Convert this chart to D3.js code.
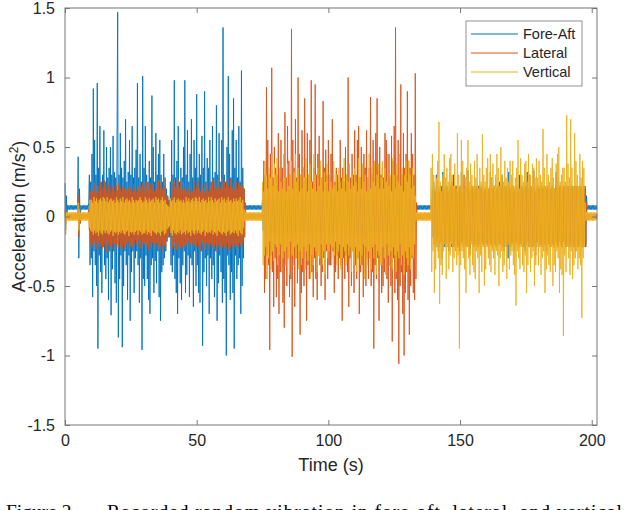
<!DOCTYPE html>
<html>
<head>
<meta charset="utf-8">
<script src="https://cdn.jsdelivr.net/npm/d3@7"></script>
<style>
  body { margin: 0; background: #fff; }
  svg text { font-family: "Liberation Sans", Arial, sans-serif; fill: #262626; }
  .caption { font-family: "Liberation Serif", "Times New Roman", serif; fill: #000; }
</style>
</head>
<body>
<div id="chart"></div>
<script>
/* ===== Data ===== */
// one value every 0.25 s from t = 0 s; each row below covers 10 s
const sampleStep = 0.25;
const seriesNames = ["Fore-Aft", "Lateral", "Vertical"];
const seriesColors = ["#0072BD", "#D95319", "#EDB120"];
const xTicks = [0, 50, 100, 150, 200];
const yTicks = [-1.5, -1, -0.5, 0, 0.5, 1, 1.5];

const foreAft = [
  0.24,-0.10,0.15,0.02,0.08,0.05,0.08,0.05,0.08,0.05,0.08,0.05,0.08,0.05,0.08,0.05,0.08,0.05,0.08,0.05,0.43,-0.30,0.20,-0.05,0.08,0.05,0.08,0.05,0.08,0.05,0.08,0.05,0.08,0.05,0.08,0.05,0.10,0.30,-0.35,0.25,
  -0.30,0.45,-0.58,0.92,-0.25,0.55,-0.35,0.30,-0.50,0.96,-0.95,0.35,-0.28,0.65,-0.40,0.25,-0.55,0.30,-0.22,0.62,-0.35,0.25,-0.45,0.50,-0.30,0.28,-0.60,0.35,-0.25,0.50,-0.71,0.30,-0.38,0.58,-0.25,0.32,-0.48,0.28,-0.62,0.55,
  1.47,-0.87,0.30,-0.45,0.60,-0.28,0.35,-0.94,0.28,-0.50,0.40,-0.25,0.70,-0.35,0.25,-0.60,0.32,-0.28,0.55,-0.75,0.30,-0.40,0.65,-0.25,0.28,-0.55,0.35,-0.30,0.48,-0.25,0.96,-0.35,0.28,-0.62,0.45,-0.30,0.25,-0.96,1.01,-0.45,
  0.35,-0.50,0.65,-0.28,0.30,-0.45,0.25,-0.60,0.40,-0.70,0.28,-0.35,0.87,-0.30,0.50,-0.55,0.25,-0.32,0.60,-0.48,0.30,-0.25,0.45,-0.58,0.55,-0.75,0.30,-0.40,0.25,-0.35,0.45,-0.30,0.28,-0.25,0.20,-0.18,0.15,-0.12,0.12,-0.15,
  0.25,-0.35,0.55,-0.40,0.30,-0.28,0.98,-0.45,0.28,-0.55,0.40,-0.70,0.65,-0.30,0.25,-0.48,0.35,-0.60,0.28,-0.35,0.50,-0.25,0.98,-0.55,0.30,-0.42,0.62,-0.28,0.25,-0.58,0.45,-0.30,0.70,-0.35,0.28,-0.65,0.55,-0.25,0.35,-0.50,
  0.88,-0.35,0.28,-0.55,0.45,-0.62,0.30,-0.25,0.58,-0.93,0.35,-0.40,0.90,-0.30,0.25,-0.50,0.42,-0.28,0.35,-0.70,0.55,-0.30,0.25,-0.45,0.65,-0.35,0.28,-0.58,0.32,-0.25,0.80,-0.75,0.30,-0.48,0.60,-0.28,0.25,-0.40,0.55,-0.62,
  1.36,-0.45,0.30,-0.55,0.25,-1.00,0.50,-0.28,1.01,-0.35,0.45,-0.60,0.28,-0.40,0.62,-0.55,0.85,-0.95,0.35,-0.28,0.55,-0.45,0.28,-0.35,0.65,-0.30,0.25,-0.70,1.05,-0.50,0.35,-0.30,0.20,0.05,0.08,0.05,0.08,0.05,0.08,0.05,
  0.08,0.05,0.08,0.05,0.08,0.05,0.08,0.05,0.08,0.05,0.08,0.05,0.08,0.05,0.08,0.05,0.08,0.05,0.08,0.05,0.12,-0.10,0.14,-0.12,0.10,-0.13,0.12,-0.11,0.15,-0.10,0.12,-0.14,0.10,-0.12,0.13,-0.10,0.12,-0.13,0.11,-0.12,
  0.13,-0.11,0.10,-0.12,0.14,-0.10,0.12,-0.13,0.11,-0.12,0.10,-0.14,0.13,-0.11,0.12,-0.10,0.14,-0.12,0.10,-0.13,0.11,-0.12,0.13,-0.10,0.12,-0.14,0.10,-0.11,0.13,-0.12,0.14,-0.10,0.11,-0.13,0.12,-0.11,0.10,-0.12,0.13,-0.10,
  0.12,-0.13,0.11,-0.10,0.14,-0.12,0.10,-0.13,0.12,-0.11,0.13,-0.12,0.10,-0.14,0.11,-0.12,0.13,-0.10,0.12,-0.11,0.10,-0.12,0.13,-0.11,0.12,-0.10,0.14,-0.13,0.11,-0.12,0.10,-0.11,0.13,-0.12,0.12,-0.10,0.11,-0.14,0.12,-0.13,
  0.11,-0.12,0.13,-0.10,0.12,-0.14,0.10,-0.11,0.13,-0.12,0.14,-0.10,0.11,-0.13,0.12,-0.11,0.10,-0.12,0.13,-0.10,0.13,-0.11,0.10,-0.12,0.14,-0.10,0.12,-0.13,0.11,-0.12,0.10,-0.14,0.13,-0.11,0.12,-0.10,0.14,-0.12,0.10,-0.13,
  0.12,-0.10,0.14,-0.12,0.10,-0.13,0.12,-0.11,0.15,-0.10,0.12,-0.14,0.10,-0.12,0.13,-0.10,0.12,-0.13,0.11,-0.12,0.12,-0.13,0.11,-0.10,0.14,-0.12,0.10,-0.13,0.12,-0.11,0.13,-0.12,0.10,-0.14,0.11,-0.12,0.13,-0.10,0.12,-0.11,
  0.10,-0.12,0.13,-0.11,0.12,-0.10,0.14,-0.13,0.11,-0.12,0.10,-0.11,0.13,-0.12,0.12,-0.10,0.11,-0.14,0.12,-0.13,0.11,-0.12,0.13,-0.10,0.12,-0.14,0.10,-0.11,0.13,-0.12,0.14,-0.10,0.11,-0.13,0.12,-0.11,0.10,-0.12,0.13,-0.10,
  0.12,-0.11,0.10,-0.12,0.13,-0.10,0.12,-0.11,0.10,-0.12,0.11,-0.10,0.10,0.05,0.08,0.05,0.08,0.05,0.08,0.05,0.08,0.05,0.08,0.05,0.08,0.05,0.08,0.05,0.08,0.05,0.08,0.05,0.08,0.05,0.08,0.05,0.08,0.05,0.20,-0.15,
  0.25,-0.20,0.18,-0.22,0.30,-0.15,0.20,-0.25,0.17,-0.20,0.22,-0.18,0.20,-0.30,0.32,-0.20,0.18,-0.22,0.20,-0.18,0.22,-0.20,0.18,-0.25,0.20,-0.18,0.22,-0.20,0.18,-0.22,0.30,-0.20,0.20,-0.18,0.22,-0.20,0.18,-0.22,0.20,-0.25,
  0.22,-0.20,0.32,-0.18,0.20,-0.22,0.18,-0.20,0.22,-0.18,0.20,-0.22,0.33,-0.20,0.18,-0.22,0.20,-0.18,0.22,-0.20,0.20,-0.22,0.18,-0.20,0.22,-0.18,0.20,-0.22,0.18,-0.20,0.22,-0.25,0.20,-0.18,0.22,-0.20,0.18,-0.22,0.20,-0.18,
  0.22,-0.20,0.18,-0.22,0.20,-0.18,0.32,-0.20,0.18,-0.22,0.20,-0.18,0.22,-0.20,0.18,-0.22,0.20,-0.18,0.22,-0.20,0.25,-0.20,0.18,-0.22,0.30,-0.15,0.20,-0.25,0.17,-0.20,0.22,-0.18,0.20,-0.30,0.32,-0.20,0.18,-0.22,0.20,-0.18,
  0.22,-0.20,0.18,-0.25,0.20,-0.18,0.22,-0.20,0.18,-0.22,0.30,-0.20,0.20,-0.18,0.22,-0.20,0.18,-0.22,0.20,-0.25,0.22,-0.20,0.32,-0.18,0.20,-0.22,0.18,-0.20,0.22,-0.18,0.20,-0.22,0.33,-0.20,0.18,-0.22,0.20,-0.18,0.22,-0.20,
  0.20,-0.22,0.18,-0.20,0.22,-0.18,0.20,-0.22,0.18,-0.20,0.22,-0.25,0.20,-0.18,0.22,-0.20,0.18,-0.22,0.20,-0.18,0.22,-0.20,0.18,-0.22,0.20,-0.18,0.32,-0.20,0.18,-0.22,0.20,-0.18,0.22,-0.20,0.18,-0.22,0.20,-0.18,0.22,-0.20,
  0.20,-0.22,0.18,-0.20,0.22,-0.18,0.20,-0.22,0.18,-0.20,0.22,-0.18,0.20,-0.22,0.18,-0.20,0.22,-0.18,0.20,-0.22,0.18,-0.20,0.22,-0.18,0.20,-0.22,0.18,-0.20,0.22,-0.18,0.20,-0.22,0.15,0.08,0.05,0.08,0.05,0.08,0.05,0.08,
  0.05,0.08,0.05,0.08,0.05,0.08,0.05,0.08,0.05
];

const lateral = [
  0.05,-0.05,0.02,-0.02,0.02,-0.02,0.02,-0.02,0.02,-0.02,0.02,-0.02,0.02,-0.02,0.02,-0.02,0.02,-0.02,0.02,-0.02,0.15,-0.15,0.08,-0.05,0.02,-0.02,0.02,-0.02,0.02,-0.02,0.02,-0.02,0.02,-0.02,0.02,-0.02,0.05,-0.10,0.18,-0.20,
  0.20,-0.22,0.18,-0.20,0.24,-0.18,0.20,-0.24,0.17,-0.20,0.22,-0.19,0.18,-0.22,0.25,-0.20,0.19,-0.23,0.21,-0.18,0.26,-0.21,0.20,-0.25,0.18,-0.20,0.23,-0.18,0.20,-0.22,0.17,-0.24,0.21,-0.19,0.24,-0.20,0.18,-0.23,0.22,-0.20,
  0.19,-0.22,0.24,-0.18,0.20,-0.21,0.18,-0.23,0.22,-0.19,0.20,-0.22,0.17,-0.20,0.19,-0.23,0.21,-0.18,0.24,-0.22,0.20,-0.21,0.18,-0.22,0.23,-0.19,0.20,-0.17,0.18,-0.20,0.19,-0.17,0.22,-0.20,0.19,-0.23,0.21,-0.18,0.24,-0.20,
  0.18,-0.20,0.22,-0.19,0.25,-0.21,0.19,-0.24,0.21,-0.18,0.24,-0.22,0.20,-0.19,0.23,-0.21,0.18,-0.22,0.20,-0.19,0.22,-0.20,0.26,-0.23,0.19,-0.21,0.24,-0.19,0.20,-0.25,0.27,-0.21,0.22,-0.24,0.15,-0.16,0.14,-0.15,0.10,-0.10,0.08,-0.09,
  0.25,-0.23,0.20,-0.21,0.26,-0.19,0.22,-0.24,0.20,-0.22,0.27,-0.20,0.21,-0.23,0.24,-0.20,0.19,-0.22,0.25,-0.21,0.20,-0.22,0.18,-0.20,0.24,-0.18,0.20,-0.24,0.17,-0.20,0.22,-0.19,0.18,-0.22,0.25,-0.20,0.19,-0.23,0.21,-0.18,
  0.26,-0.21,0.20,-0.25,0.18,-0.20,0.23,-0.18,0.20,-0.22,0.17,-0.24,0.21,-0.19,0.24,-0.20,0.18,-0.23,0.22,-0.20,0.22,-0.20,0.26,-0.23,0.19,-0.21,0.24,-0.19,0.20,-0.25,0.27,-0.21,0.22,-0.24,0.20,-0.19,0.28,-0.22,0.23,-0.20,
  0.25,-0.23,0.20,-0.21,0.26,-0.19,0.22,-0.24,0.20,-0.22,0.27,-0.20,0.21,-0.23,0.24,-0.20,0.19,-0.22,0.25,-0.21,0.20,-0.22,0.24,-0.19,0.22,-0.21,0.26,-0.20,0.22,-0.18,0.20,-0.15,0.10,-0.02,0.02,-0.02,0.02,-0.02,0.02,-0.02,
  0.02,-0.02,0.02,-0.02,0.02,-0.02,0.02,-0.02,0.02,-0.02,0.02,-0.02,0.02,-0.02,0.02,-0.02,0.02,-0.02,0.02,-0.02,0.40,-0.55,0.30,-0.45,0.93,-0.28,0.55,-0.35,0.30,-0.96,0.45,-0.28,1.07,-0.40,0.28,-0.65,0.50,-0.30,0.35,-0.58,
  0.30,-0.45,0.60,-0.70,0.28,-0.40,0.55,-0.30,0.35,-0.62,0.25,-0.80,0.75,-0.35,0.28,-0.50,0.65,-0.30,0.40,-0.58,0.30,-0.45,1.35,-1.01,0.55,-0.28,0.35,-0.65,0.70,-0.30,0.28,-0.48,1.00,-0.35,0.45,-0.85,0.30,-0.55,0.62,-0.40,
  0.35,-0.50,0.85,-0.30,0.28,-0.75,0.60,-0.35,0.30,-0.45,0.55,-0.28,0.98,-0.40,0.25,-0.58,0.35,-0.30,0.95,-0.45,0.30,-0.60,0.45,-0.28,0.58,-0.35,0.30,-0.50,0.28,-0.40,0.83,-0.30,0.35,-0.60,0.48,-0.25,0.30,-0.45,0.55,-0.35,
  0.28,-0.35,0.45,-0.30,0.70,-0.25,0.30,-0.55,0.25,-0.40,0.35,-0.28,0.30,-0.45,0.25,-0.30,0.55,-0.35,0.28,-0.75,0.35,-0.30,0.25,-0.45,0.50,-0.28,0.30,-0.40,1.00,-0.65,0.35,-0.30,0.28,-0.50,0.45,-0.25,0.30,-0.55,0.62,-0.35,
  0.30,-0.45,0.55,-0.30,0.65,-0.70,0.28,-0.40,0.50,-0.35,0.30,-0.58,0.45,-0.28,0.35,-0.50,0.62,-0.30,0.28,-0.45,0.35,-0.30,0.86,-0.50,0.30,-0.40,0.55,-0.95,0.28,-0.35,0.60,-0.45,0.85,-0.30,0.35,-0.75,0.50,-0.28,0.30,-0.55,
  0.35,-0.50,0.28,-0.40,0.60,-0.30,0.55,-0.45,0.30,-0.62,0.45,-0.35,0.28,-0.50,0.58,-0.90,0.40,-0.30,0.65,-0.55,1.36,-0.45,0.30,-0.60,0.55,-1.06,0.35,-0.50,0.95,-0.40,0.30,-0.70,0.60,-1.00,0.35,-0.55,0.45,-0.40,0.90,-0.60,
  0.40,-0.85,0.35,-0.50,0.60,-0.30,0.45,-0.55,0.30,-0.60,1.03,-0.45,0.10,-0.02,0.02,-0.02,0.02,-0.02,0.02,-0.02,0.02,-0.02,0.02,-0.02,0.02,-0.02,0.02,-0.02,0.02,-0.02,0.02,-0.02,0.02,-0.02,0.02,-0.02,0.10,-0.10,
  0.22,-0.20,0.18,-0.22,0.20,-0.18,0.22,-0.20,0.18,-0.22,0.20,-0.18,0.22,-0.20,0.18,-0.22,0.20,-0.18,0.22,-0.20,0.20,-0.22,0.18,-0.20,0.22,-0.18,0.20,-0.22,0.25,-0.20,0.18,-0.22,0.20,-0.18,0.22,-0.20,0.18,-0.22,0.20,-0.18,
  0.18,-0.20,0.22,-0.18,0.20,-0.22,0.30,-0.20,0.18,-0.22,0.20,-0.18,0.22,-0.20,0.18,-0.28,0.20,-0.18,0.22,-0.20,0.20,-0.18,0.22,-0.20,0.18,-0.22,0.20,-0.18,0.22,-0.20,0.18,-0.25,0.20,-0.18,0.22,-0.20,0.18,-0.22,0.20,-0.18,
  0.22,-0.20,0.18,-0.22,0.20,-0.18,0.22,-0.20,0.28,-0.22,0.20,-0.18,0.22,-0.20,0.18,-0.22,0.20,-0.18,0.22,-0.20,0.18,-0.20,0.22,-0.18,0.20,-0.22,0.18,-0.20,0.22,-0.18,0.20,-0.22,0.18,-0.20,0.22,-0.25,0.20,-0.18,0.22,-0.20,
  0.22,-0.20,0.18,-0.22,0.20,-0.18,0.22,-0.20,0.18,-0.22,0.20,-0.18,0.22,-0.20,0.18,-0.22,0.20,-0.18,0.22,-0.20,0.18,-0.20,0.22,-0.18,0.20,-0.22,0.30,-0.20,0.18,-0.22,0.20,-0.18,0.22,-0.20,0.18,-0.28,0.20,-0.18,0.22,-0.20,
  0.20,-0.18,0.22,-0.20,0.18,-0.22,0.20,-0.18,0.22,-0.20,0.18,-0.25,0.20,-0.18,0.22,-0.20,0.18,-0.22,0.20,-0.18,0.22,-0.20,0.18,-0.22,0.20,-0.18,0.22,-0.20,0.28,-0.22,0.20,-0.18,0.22,-0.20,0.18,-0.22,0.20,-0.18,0.22,-0.20,
  0.18,-0.20,0.22,-0.18,0.20,-0.22,0.18,-0.20,0.22,-0.18,0.20,-0.22,0.18,-0.20,0.22,-0.25,0.20,-0.18,0.22,-0.20,0.18,-0.22,0.20,-0.18,0.22,-0.20,0.18,-0.22,0.20,-0.18,0.22,-0.20,0.10,-0.02,0.02,-0.02,0.02,-0.02,0.02,-0.02,
  0.02,-0.02,0.02,-0.02,0.02,-0.02,0.02,-0.02,0.02
];

const vertical = [
  0.05,-0.13,0.03,-0.03,0.03,-0.03,0.03,-0.03,0.03,-0.03,0.03,-0.03,0.03,-0.03,0.03,-0.03,0.03,-0.03,0.03,-0.03,0.10,-0.10,0.05,-0.03,0.03,-0.03,0.03,-0.03,0.03,-0.03,0.03,-0.03,0.03,-0.03,0.03,-0.03,0.03,-0.08,0.12,-0.10,
  0.12,-0.11,0.10,-0.13,0.14,-0.10,0.11,-0.12,0.13,-0.11,0.10,-0.14,0.12,-0.10,0.13,-0.12,0.11,-0.13,0.14,-0.10,0.13,-0.12,0.11,-0.10,0.14,-0.12,0.10,-0.13,0.12,-0.11,0.13,-0.10,0.11,-0.14,0.12,-0.11,0.10,-0.12,0.14,-0.11,
  0.12,-0.13,0.10,-0.11,0.13,-0.12,0.11,-0.10,0.14,-0.12,0.10,-0.13,0.12,-0.11,0.13,-0.10,0.11,-0.14,0.12,-0.11,0.10,-0.12,0.14,-0.11,0.12,-0.13,0.10,-0.11,0.12,-0.10,0.11,-0.13,0.12,-0.10,0.14,-0.11,0.12,-0.13,0.10,-0.12,
  0.11,-0.12,0.14,-0.10,0.12,-0.13,0.10,-0.11,0.13,-0.12,0.11,-0.14,0.12,-0.10,0.13,-0.11,0.10,-0.12,0.14,-0.13,0.12,-0.11,0.13,-0.12,0.10,-0.14,0.12,-0.11,0.14,-0.10,0.11,-0.13,0.12,-0.12,0.09,-0.09,0.08,-0.08,0.07,-0.07,
  0.13,-0.12,0.11,-0.14,0.12,-0.10,0.14,-0.12,0.10,-0.13,0.12,-0.11,0.13,-0.12,0.11,-0.10,0.12,-0.13,0.10,-0.12,0.12,-0.11,0.10,-0.13,0.14,-0.10,0.11,-0.12,0.13,-0.11,0.10,-0.14,0.12,-0.10,0.13,-0.12,0.11,-0.13,0.14,-0.10,
  0.13,-0.12,0.11,-0.10,0.14,-0.12,0.10,-0.13,0.12,-0.11,0.13,-0.10,0.11,-0.14,0.12,-0.11,0.10,-0.12,0.14,-0.11,0.11,-0.12,0.14,-0.10,0.12,-0.13,0.10,-0.11,0.13,-0.12,0.11,-0.14,0.12,-0.10,0.13,-0.11,0.10,-0.12,0.14,-0.13,
  0.12,-0.11,0.13,-0.12,0.10,-0.14,0.12,-0.11,0.14,-0.10,0.11,-0.13,0.12,-0.12,0.10,-0.11,0.13,-0.12,0.11,-0.10,0.13,-0.12,0.11,-0.14,0.12,-0.10,0.14,-0.12,0.10,-0.13,0.12,-0.08,0.05,-0.03,0.03,-0.03,0.03,-0.03,0.03,-0.03,
  0.03,-0.03,0.03,-0.03,0.03,-0.03,0.03,-0.03,0.03,-0.03,0.03,-0.03,0.03,-0.03,0.03,-0.03,0.03,-0.03,0.03,-0.03,0.25,-0.35,0.18,-0.28,0.40,-0.22,0.30,-0.45,0.20,-0.30,0.35,-0.18,0.28,-0.38,0.45,-0.25,0.22,-0.32,0.38,-0.20,
  0.30,-0.22,0.42,-0.35,0.18,-0.28,0.35,-0.20,0.25,-0.40,0.20,-0.30,0.45,-0.25,0.28,-0.35,0.18,-0.22,0.38,-0.30,0.22,-0.42,0.30,-0.18,0.40,-0.28,0.20,-0.35,0.32,-0.22,0.45,-0.30,0.25,-0.20,0.35,-0.38,0.18,-0.25,0.30,-0.35,
  0.20,-0.30,0.35,-0.22,0.28,-0.38,0.42,-0.25,0.18,-0.32,0.30,-0.20,0.38,-0.45,0.25,-0.28,0.20,-0.35,0.45,-0.22,0.30,-0.25,0.18,-0.40,0.35,-0.28,0.22,-0.30,0.40,-0.20,0.28,-0.35,0.18,-0.25,0.32,-0.42,0.25,-0.20,0.38,-0.30,
  0.18,-0.25,0.30,-0.20,0.25,-0.35,0.20,-0.22,0.40,-0.28,0.22,-0.18,0.30,-0.35,0.18,-0.25,0.35,-0.20,0.25,-0.38,0.20,-0.30,0.28,-0.22,0.42,-0.25,0.18,-0.35,0.30,-0.20,0.25,-0.28,0.38,-0.22,0.20,-0.40,0.30,-0.25,0.22,-0.35,
  0.35,-0.22,0.25,-0.40,0.18,-0.30,0.42,-0.25,0.28,-0.35,0.20,-0.28,0.38,-0.20,0.25,-0.45,0.30,-0.22,0.18,-0.35,0.28,-0.25,0.45,-0.30,0.20,-0.38,0.35,-0.22,0.25,-0.30,0.40,-0.20,0.22,-0.42,0.30,-0.25,0.38,-0.28,0.20,-0.35,
  0.28,-0.35,0.40,-0.22,0.20,-0.30,0.35,-0.42,0.25,-0.20,0.45,-0.28,0.22,-0.35,0.30,-0.25,0.18,-0.38,0.42,-0.22,0.30,-0.28,0.20,-0.40,0.38,-0.25,0.25,-0.30,0.45,-0.20,0.22,-0.35,0.35,-0.28,0.18,-0.42,0.30,-0.25,0.40,-0.30,
  0.25,-0.35,0.40,-0.22,0.30,-0.38,0.20,-0.28,0.35,-0.30,0.22,-0.20,0.15,-0.03,0.03,-0.03,0.03,-0.03,0.03,-0.03,0.03,-0.03,0.03,-0.03,0.03,-0.03,0.03,-0.03,0.03,-0.03,0.03,-0.03,0.03,-0.03,0.03,-0.03,0.35,-0.40,
  0.45,-0.25,0.30,-0.55,0.20,-0.38,0.28,-0.22,0.40,-0.30,0.68,-0.63,0.25,-0.35,0.18,-0.42,0.30,-0.25,0.45,-0.20,0.28,-0.45,0.35,-0.22,0.25,-0.38,0.42,-0.28,0.45,-0.20,0.30,-0.40,0.22,-0.30,0.38,-0.25,0.20,-0.35,0.60,-0.28,
  0.30,-0.95,0.22,-0.35,0.55,-0.25,0.40,-0.30,0.20,-0.38,0.28,-0.55,0.35,-0.22,0.55,-0.30,0.25,-0.42,0.38,-0.20,0.30,-0.35,0.22,-0.40,0.40,-0.45,0.28,-0.25,0.45,-0.30,0.20,-0.55,0.35,-0.28,0.25,-0.40,0.59,-0.22,0.30,-0.50,
  0.25,-0.38,0.35,-0.22,0.42,-0.30,0.20,-0.35,0.45,-0.40,0.28,-0.25,0.38,-0.30,0.22,-0.42,0.30,-0.25,0.45,-0.28,0.35,-0.50,0.22,-0.30,0.50,-0.25,0.30,-0.40,0.25,-0.35,0.40,-0.22,0.28,-0.45,0.35,-0.20,0.25,-0.38,0.40,-0.28,
  0.30,-0.25,0.40,-0.35,0.22,-0.42,0.28,-0.64,0.35,-0.25,0.55,-0.30,0.20,-0.38,0.42,-0.22,0.30,-0.35,0.25,-0.40,0.38,-0.28,0.40,-0.55,0.25,-0.35,0.45,-0.22,0.30,-0.40,0.22,-0.30,0.38,-0.25,0.35,-0.50,0.28,-0.35,0.42,-0.22,
  0.28,-0.35,0.40,-0.22,0.30,-0.42,0.25,-0.30,0.63,-0.25,0.35,-0.55,0.22,-0.38,0.45,-0.28,0.30,-0.35,0.25,-0.40,0.35,-0.22,0.42,-0.50,0.28,-0.35,0.20,-0.40,0.38,-0.25,0.45,-0.30,0.50,-0.55,0.25,-0.38,0.30,-0.42,0.35,-0.86,
  0.35,-0.28,0.25,-0.40,0.73,-0.22,0.38,-0.30,0.28,-0.42,0.70,-0.25,0.35,-0.45,0.22,-0.35,0.60,-0.30,0.40,-0.25,0.30,-0.38,0.22,-0.30,0.45,-0.35,0.28,-0.73,0.40,-0.30,0.35,-0.22,0.10,-0.03,0.03,-0.03,0.03,-0.03,0.03,-0.03,
  0.03,-0.03,0.03,-0.03,0.03,-0.03,0.03,-0.03,0.03
];

/* ===== Layout ===== */
const width = 624;
const height = 510;
const margin = {top: 8, right: 27, bottom: 85, left: 65};
const tickLength = 5;

const svg = d3.select("#chart")
              .append("svg")
              .attr("width", width)
              .attr("height", height);

const x = d3.scaleLinear()
            .domain([0, 202])
            .range([margin.left, width - margin.right]);

const y = d3.scaleLinear()
            .domain([-1.5, 1.5])
            .range([height - margin.bottom, margin.top]);

// Signals, drawn in MATLAB order so Vertical ends on top
const line = d3.line()
               .x((d, i) => x(i * sampleStep))
               .y(d => y(d));

[foreAft, lateral, vertical].forEach((values, k) => {
    svg.append("path")
       .datum(values)
       .attr("fill", "none")
       .attr("stroke", seriesColors[k])
       .attr("stroke-width", 0.9)
       .attr("stroke-linejoin", "bevel")
       .attr("d", line);
});

// Axes with inward ticks on all four sides (box on)
function styleAxis(g) {
    g.select(".domain").remove();
    g.selectAll(".tick line").attr("stroke", "#777");
    g.selectAll(".tick text").attr("font-size", 16).attr("fill", "#262626");
}

svg.append("g")
   .attr("transform", `translate(0,${y(-1.5)})`)
   .call(d3.axisBottom(x).tickValues(xTicks).tickSizeInner(-tickLength).tickSizeOuter(0).tickPadding(10).tickFormat(d => String(d)))
   .call(styleAxis);

svg.append("g")
   .attr("transform", `translate(0,${y(1.5)})`)
   .call(d3.axisTop(x).tickValues(xTicks).tickSizeInner(-tickLength).tickSizeOuter(0).tickFormat(""))
   .call(styleAxis);

svg.append("g")
   .attr("transform", `translate(${x(0)},0)`)
   .call(d3.axisLeft(y).tickValues(yTicks).tickSizeInner(-tickLength).tickSizeOuter(0).tickPadding(10).tickFormat(d => String(d)))
   .call(styleAxis);

svg.append("g")
   .attr("transform", `translate(${x(202)},0)`)
   .call(d3.axisRight(y).tickValues(yTicks).tickSizeInner(-tickLength).tickSizeOuter(0).tickFormat(""))
   .call(styleAxis);

svg.append("rect")
   .attr("x", x(0))
   .attr("y", y(1.5))
   .attr("width", x(202) - x(0))
   .attr("height", y(-1.5) - y(1.5))
   .attr("fill", "none")
   .attr("stroke", "#777")
   .attr("stroke-width", 1);

// Axis titles
svg.append("text")
   .attr("x", (x(0) + x(202)) / 2)
   .attr("y", 471)
   .attr("text-anchor", "middle")
   .attr("font-size", 18)
   .text("Time (s)");

const yTitle = svg.append("text")
                  .attr("transform", `translate(25,${y(0)}) rotate(-90)`)
                  .attr("text-anchor", "middle")
                  .attr("font-size", 18);
yTitle.append("tspan").text("Acceleration (m/s");
yTitle.append("tspan").attr("font-size", 12).attr("dy", -7).text("2");
yTitle.append("tspan").attr("dy", 7).text(")");

// Legend
const legend = svg.append("g").attr("transform", "translate(466,21)");
legend.append("rect")
      .attr("width", 116)
      .attr("height", 65)
      .attr("fill", "#fff")
      .attr("stroke", "#777")
      .attr("stroke-width", 0.8);

seriesNames.forEach((name, k) => {
    const rowY = 13 + k * 19;
    legend.append("line")
          .attr("x1", 5).attr("x2", 52)
          .attr("y1", rowY).attr("y2", rowY)
          .attr("stroke", seriesColors[k])
          .attr("stroke-width", 1);
    legend.append("text")
          .attr("x", 57)
          .attr("y", rowY)
          .attr("dy", "0.35em")
          .attr("font-size", 14.5)
          .text(name);
});

// Figure caption (cut off by the bottom edge in the source)
svg.append("text")
   .attr("class", "caption")
   .attr("x", 6)
   .attr("y", 518)
   .attr("font-size", 19.5)
   .text("Figure 2.");

svg.append("text")
   .attr("class", "caption")
   .attr("x", 107)
   .attr("y", 518)
   .attr("font-size", 19.5)
   .attr("textLength", 515)
   .attr("lengthAdjust", "spacing")
   .text("Recorded random vibration in fore-aft, lateral, and vertical");
</script>
</body>
</html>
